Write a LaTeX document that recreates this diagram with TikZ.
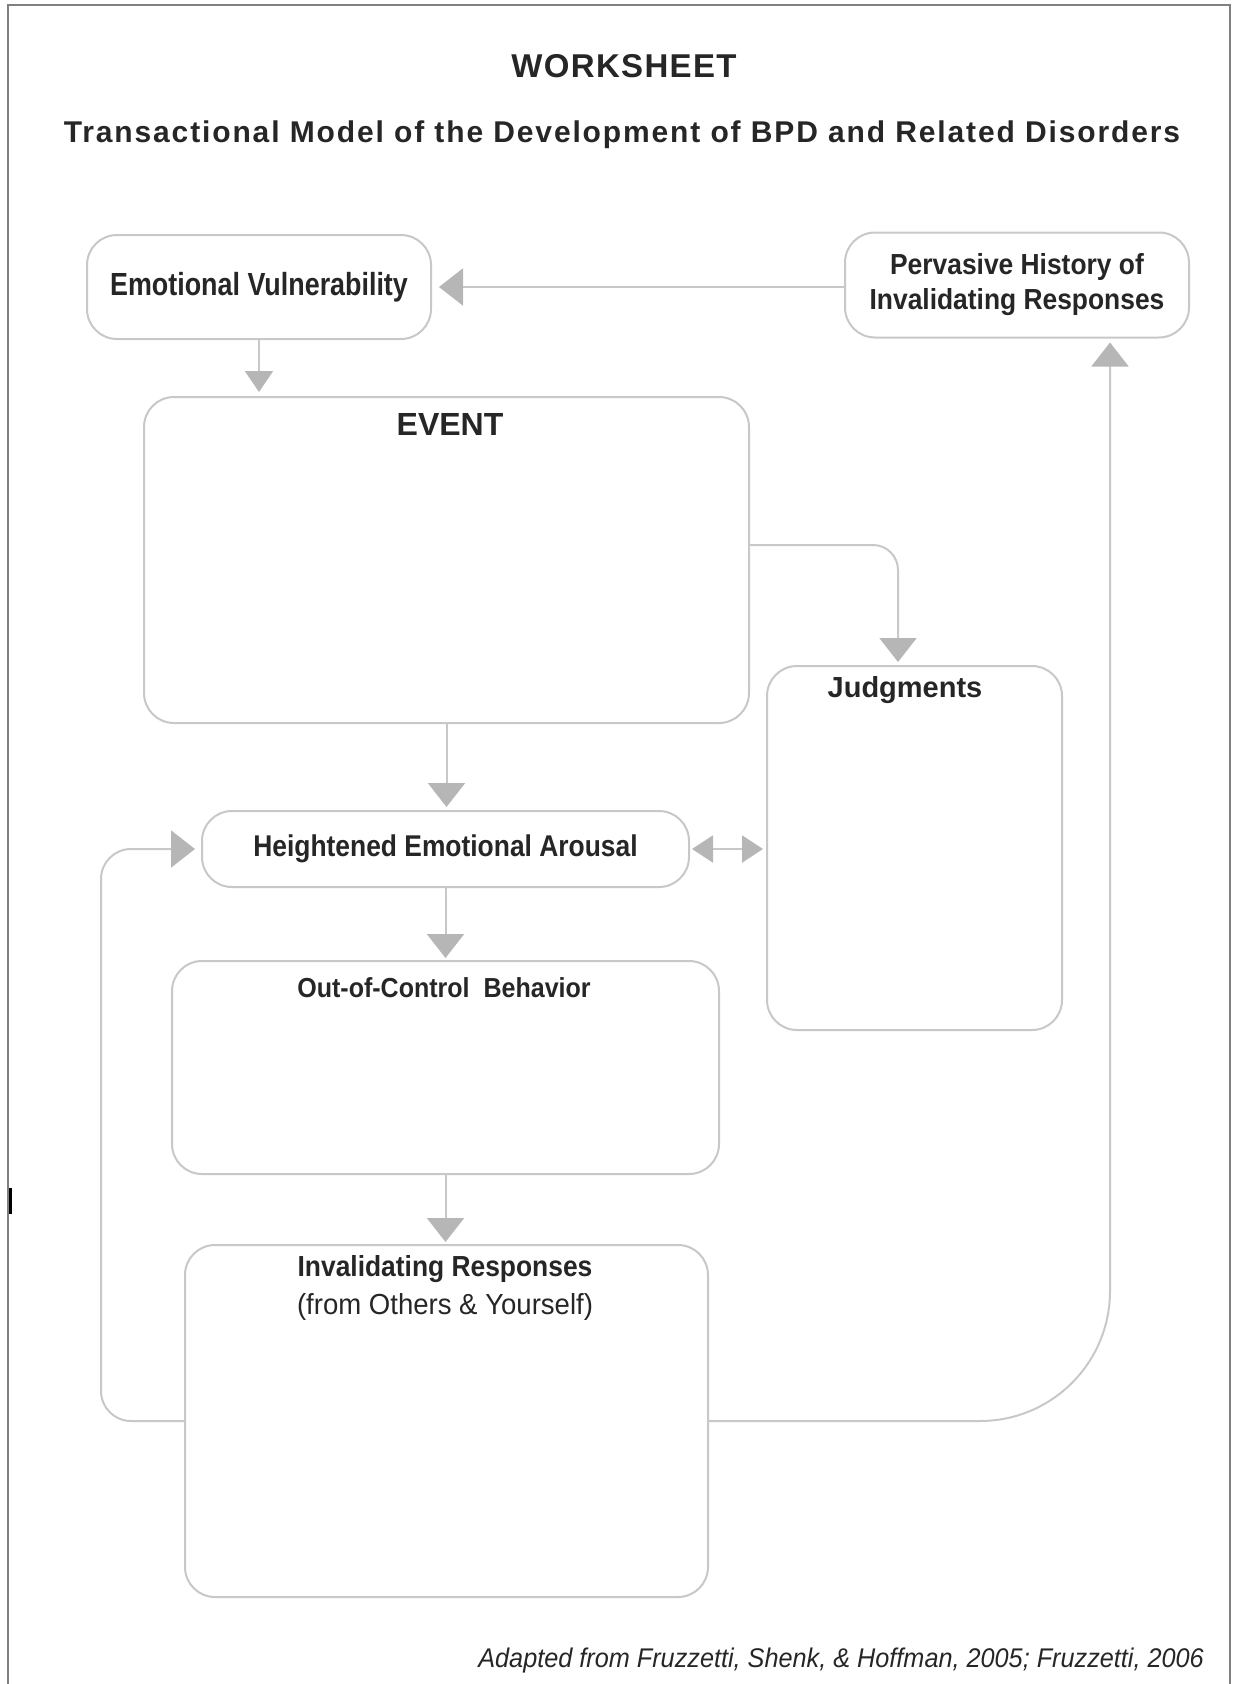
\documentclass[tikz,border=0pt]{standalone}
\usepackage{fontspec}
\setmainfont{Liberation Sans}
\newfontfamily\narrowA{Liberation Sans}[FakeStretch=0.84]
\newfontfamily\narrowH{Liberation Sans}[FakeStretch=0.88]
\newfontfamily\narrowB{Liberation Sans}[FakeStretch=0.91]
\newfontfamily\narrowC{Liberation Sans}[FakeStretch=0.95]
\newfontfamily\notefont{Liberation Sans}[FakeStretch=0.935]
\newfontfamily\spacedA{Liberation Sans}[LetterSpace=4]
\newfontfamily\spacedB{Liberation Sans}[LetterSpace=6.2]
\usetikzlibrary{arrows.meta,calc}
\definecolor{boxline}{RGB}{200,200,200}
\definecolor{tipgray}{RGB}{182,182,182}
\definecolor{ink}{RGB}{38,38,38}
\definecolor{framegray}{RGB}{128,128,128}

\begin{document}
\begin{tikzpicture}[x=1pt,y=-1pt,
  box/.style={draw=boxline, line width=2pt, rounded corners=30pt, inner sep=0pt, fill=white},
  conn/.style={draw=boxline, line width=2pt},
  bigtip/.style={-{Triangle[width=37pt,length=24pt,color=tipgray]}},
  smalltip/.style={-{Triangle[width=28pt,length=21pt,color=tipgray]}},
  bothtip/.style={{Triangle[width=27pt,length=21pt,color=tipgray]}-{Triangle[width=27pt,length=21pt,color=tipgray]}},
  lbl/.style={text=ink, inner sep=0pt, align=center},
]
\useasboundingbox (0,0) rectangle (1232,1684);

% page frame (open at the bottom)
\draw[framegray, line width=2pt] (8,1684) -- (8,5) -- (1230,5) -- (1230,1684);
\draw[black, line width=3pt] (10,1188) -- (10,1214);

% headings
\node[lbl, font=\spacedA\bfseries\fontsize{33}{38}\selectfont] (title) at (624,66) {WORKSHEET};
\node[lbl, font=\spacedB\bfseries\fontsize{30}{36}\selectfont] (subtitle) at (622,135)
  {Transactional Model of the Development of BPD and Related Disorders};

% boxes
\node[box, lbl, minimum width=344pt, minimum height=104pt,
      font=\narrowA\bfseries\fontsize{32}{36}\selectfont] (ev) at (259,287) {Emotional Vulnerability};
\node[box, lbl, minimum width=344pt, minimum height=105pt,
      font=\narrowB\bfseries\fontsize{29}{35}\selectfont] (phir) at (1017,285)
      {Pervasive History of\\Invalidating Responses};
\node[box, minimum width=605pt, minimum height=326pt] (event) at (446.5,560) {};
\node[box, minimum width=295pt, minimum height=364pt] (judg) at (914.5,848) {};
\node[box, lbl, minimum width=487pt, minimum height=76pt,
      font=\narrowH\bfseries\fontsize{30}{34}\selectfont] (hea) at (445.5,849) {Heightened Emotional Arousal};
\node[box, minimum width=547pt, minimum height=213pt] (ooc) at (445.5,1067.5) {};
\node[box, minimum width=523pt, minimum height=352pt] (ir) at (446.5,1421) {};

% box headings
\node[lbl, font=\bfseries\fontsize{32}{36}\selectfont] (eventlbl) at (450,424) {EVENT};
\node[lbl, font=\bfseries\fontsize{29}{34}\selectfont] (judglbl) at (905,690) {Judgments};
\node[lbl, font=\narrowB\bfseries\fontsize{27.5}{30}\selectfont] (ooclbl) at (444,988) {Out-of-Control\ \ Behavior};
\node[lbl, font=\fontsize{29}{38}\selectfont] (irlbl) at (445,1288)
  {{\narrowB\bfseries Invalidating Responses}\\{\narrowC (from Others \& Yourself)}};

% connectors
\draw[conn, smalltip, shorten >=4pt] (ev.south) -- (ev.south |- event.north);
\draw[conn, bigtip, shorten >=7pt] (phir.west |- ev.east) -- (ev.east);
\draw[conn, bigtip, shorten >=3pt] (event.south) -- (event.south |- hea.north);
\draw[conn, bigtip, rounded corners=25pt, shorten >=3pt]
  ([yshift=15pt]event.east) -| ([xshift=-16.5pt]judg.north);
\draw[conn, bothtip, shorten <=2pt, shorten >=3pt] (hea.east) -- (hea.east -| judg.west);
\draw[conn, bigtip, shorten >=2pt] (hea.south) -- (hea.south |- ooc.north);
\draw[conn, bigtip, shorten >=2pt] (ooc.south) -- (ooc.south |- ir.north);
\draw[conn, bigtip, rounded corners=30pt, shorten >=6pt]
  (ir.west) -| ($(hea.west)+(-100,0)$) -- (hea.west);
\draw[conn, bigtip, rounded corners=130pt, shorten >=4pt]
  (ir.east) -| ([xshift=93pt]phir.south);

% source note
\node[lbl, anchor=east, font=\notefont\itshape\fontsize{27}{30}\selectfont] (source) at (1204,1660)
  {Adapted from Fruzzetti, Shenk, \& Hoffman, 2005; Fruzzetti, 2006};
\end{tikzpicture}
\end{document}
